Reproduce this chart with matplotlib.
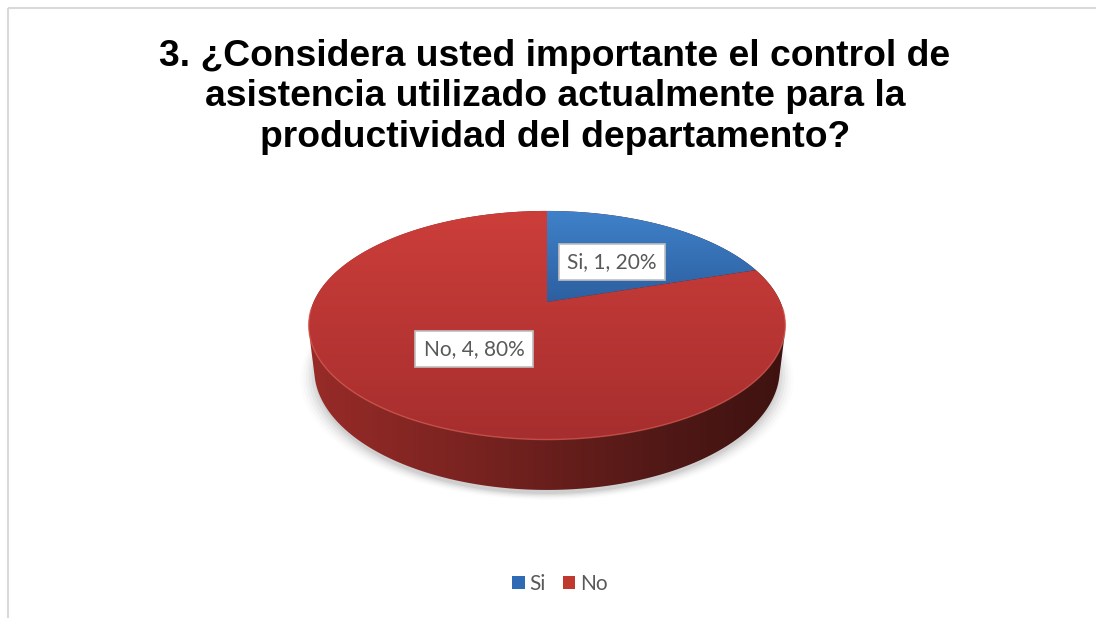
import numpy as np
import matplotlib
matplotlib.use("Agg")
import matplotlib.pyplot as plt
from matplotlib.patches import Polygon, Patch

# ---- data ----
categories = ["Si", "No"]
counts = [1, 4]
title = ("3. ¿Considera usted importante el control de\n"
         "asistencia utilizado actualmente para la\n"
         "productividad del departamento?")

top_colors = {"Si": ((64, 130, 202), (44, 95, 160)),
              "No": ((204, 62, 58), (166, 46, 46))}
legend_colors = {"Si": "#2f6bb5", "No": "#c0392f"}

W, H = 1097, 618
fig = plt.figure(figsize=(W / 100, H / 100), dpi=100)
ax = fig.add_axes([0, 0, 1, 1])
ax.set_xlim(0, W)
ax.set_ylim(H, 0)
ax.axis("off")

# chart frame
ax.plot([7.5, 7.5], [H, 7.5], color="#d9d9d9", lw=1.5, solid_capstyle="butt")
ax.plot([7.5, W - 1], [7.5, 7.5], color="#d9d9d9", lw=1.5, solid_capstyle="butt")

# ---- 3D pie projection ----
cx, cy = 547, 302          # screen position of the pie centre
elev = np.radians(28)
dist = 4.34
focal = 1013
thick = 0.216


def project(theta, z=0.0):
    X, Y = np.cos(theta), np.sin(theta)
    depth = dist + Y * np.cos(elev) - z * np.sin(elev)
    sx = cx + focal * X / depth
    sy = cy - focal * (Y * np.sin(elev) + z * np.cos(elev)) / depth
    return sx, sy


def hull(pts):
    pts = sorted(map(tuple, pts))
    def cross(o, a, b):
        return (a[0] - o[0]) * (b[1] - o[1]) - (a[1] - o[1]) * (b[0] - o[0])
    lower, upper = [], []
    for p in pts:
        while len(lower) >= 2 and cross(lower[-2], lower[-1], p) <= 0:
            lower.pop()
        lower.append(p)
    for p in reversed(pts):
        while len(upper) >= 2 and cross(upper[-2], upper[-1], p) <= 0:
            upper.pop()
        upper.append(p)
    return np.array(lower[:-1] + upper[:-1])


def gradient_fill(poly_xy, stops, horizontal=False, zorder=2):
    patch = Polygon(poly_xy, closed=True, facecolor="none", edgecolor="none")
    ax.add_patch(patch)
    x0, y0 = poly_xy.min(axis=0)
    x1, y1 = poly_xy.max(axis=0)
    t = np.linspace(0, 1, 256)
    pos = [s[0] for s in stops]
    cols = np.array([s[1] for s in stops], dtype=float) / 255
    rgb = np.stack([np.interp(t, pos, cols[:, k]) for k in range(3)], axis=-1)
    img = rgb[np.newaxis, :, :] if horizontal else rgb[:, np.newaxis, :]
    im = ax.imshow(img, extent=(x0 - 1, x1 + 1, y1 + 1, y0 - 1), origin="upper",
                   aspect="auto", interpolation="bilinear", zorder=zorder)
    im.set_clip_path(patch)
    return im


full = np.linspace(0, 2 * np.pi, 720)

# soft shadow under the pie
for k, a in zip(range(6), np.linspace(0.05, 0.012, 6)):
    bx, by = project(full, -thick)
    sx = cx + (bx - cx) * (1.0 + 0.012 * k)
    sy = by + 4 + 1.2 * k
    ax.fill(sx, sy, color="#000000", alpha=a, lw=0, zorder=1)

# cylinder silhouette (side wall)
tx, ty = project(full, 0.0)
bx, by = project(full, -thick)
sil = hull(np.column_stack([np.r_[tx, bx], np.r_[ty, by]]))
gradient_fill(sil, [(0, (152, 43, 40)), (0.35, (120, 35, 32)),
                    (0.75, (80, 24, 22)), (1, (62, 18, 16))],
              horizontal=True, zorder=2)

# top faces of the slices
total = float(sum(counts))
start = np.pi / 2
for name, v in zip(categories, counts):
    span = 2 * np.pi * v / total
    th = np.linspace(start, start - span, 400)
    px, py = project(th, 0.0)
    poly = np.column_stack([np.r_[cx, px], np.r_[cy, py]])
    gradient_fill(poly, [(0, top_colors[name][0]), (1, top_colors[name][1])], zorder=3)
    start -= span

# light rim along the front edge of the top face
fr = np.linspace(np.pi * 1.02, np.pi * 1.98, 300)
fx, fy = project(fr, 0.0)
ax.plot(fx, fy, color="#e06a60", lw=1.0, alpha=0.6, zorder=4)

# data labels
pcts = [100 * v / total for v in counts]
label_pos = {"Si": (612, 262), "No": (474, 349)}
for name, v, p in zip(categories, counts, pcts):
    x, y = label_pos[name]
    ax.text(x, y, f"{name}, {v}, {p:.0f}%", ha="center", va="center",
            fontsize=15, family="Lato", color="#595959", zorder=6,
            bbox=dict(boxstyle="square,pad=0.4", fc="white", ec="#bfbfbf", lw=1.2))

# title
ax.text(555, 97, title, ha="center", va="center", fontsize=26.8, fontweight="bold",
        family="Liberation Sans", color="black", linespacing=1.2, zorder=6)

# legend
handles = [Patch(facecolor=legend_colors[c], edgecolor="none", label=c) for c in categories]
leg = ax.legend(handles=handles, loc="center", bbox_to_anchor=(560 / W, 1 - 584 / H),
                ncol=2, frameon=False, handlelength=0.6, handleheight=0.6,
                handletextpad=0.25, columnspacing=0.8,
                prop={"family": "Lato", "size": 15})
for t in leg.get_texts():
    t.set_color("#595959")

fig.savefig("out.png", dpi=100)
